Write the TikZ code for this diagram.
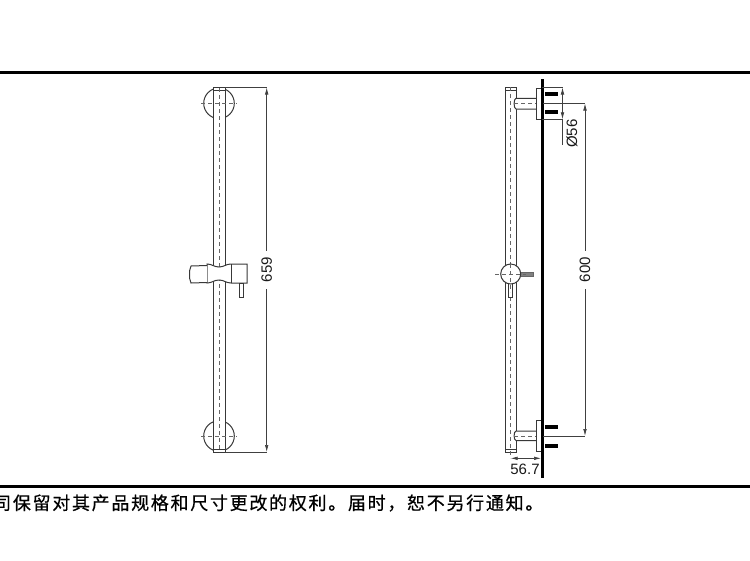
\documentclass[tikz,border=0pt]{standalone}
\usepackage{fontspec}
\usetikzlibrary{arrows.meta}
\setmainfont{Liberation Sans}
\newfontfamily\cjk[FakeBold=0.6]{Noto Sans CJK SC}
\tikzset{
    part/.style={draw=black!78, line width=1pt, fill=white},
    axis/.style={draw=black!60, line width=0.8pt, dashed, dash pattern=on 4pt off 3pt},
    dimline/.style={draw=black!75, line width=0.7pt},
    dimtip/.style={{Latex[length=7pt,width=3.6pt]}-{Latex[length=7pt,width=3.6pt]}},
    dimtext/.style={font=\fontsize{15}{15}\selectfont, text=black!90, inner ysep=1pt, inner xsep=6.5pt},
    screw/.style={draw=black, line width=4.2pt},
}
\begin{document}
\begin{tikzpicture}[x=1pt,y=-1pt]
    \useasboundingbox (0,0) rectangle (750,560);
    \clip (0,0) rectangle (750,560);
    % frame rules
    \draw[black, line width=3pt] (0,72) -- (750,72);
    \draw[black, line width=2.5pt] (0,486.5) -- (750,486.5);
    \node[anchor=west, inner sep=0pt, font=\cjk\fontsize{18}{19}\selectfont, black] (note) at (-7,503) {\addfontfeature{LetterSpace=9.5}司保留对其产品规格和尺寸更改的权利。届时，恕不另行通知。};

    % front view
    \foreach \y in {103.3,436}{
        \draw[part] (219,\y) circle (15.3);
    }
    \draw[part] (213,87.5) rectangle (225,452);
    \draw[part] (213,90) -- (225,90);
    \draw[part] (213,449) -- (225,449);
    \foreach \y in {103.3,436}{
        \draw[axis] (201,\y) -- (237,\y);
    }
    \draw[axis] (219,88) -- (219,452);
    % slider
    \draw[part] (207,264) .. controls (212,264) and (214,267) .. (219,267) .. controls (224,267) and (226,264) .. (231,264) -- (247,264) -- (247,283) -- (231,283) .. controls (226,283) and (224,280) .. (219,280) .. controls (214,280) and (212,283) .. (207,283) -- cycle;
    \draw[part] (207,265.5) -- (191,266) -- (189.5,271) -- (189.5,278) -- (191,283) -- (207,282.5);
    \draw[part] (231,264) -- (231,283);
    \draw[part] (239,283) rectangle (243,297.5);
    % 659
    \coordinate (frontTop) at (225,87.5);
    \coordinate (frontBot) at (225,452);
    \coordinate (dimTop) at (266.7,87.5);
    \coordinate (dimBot) at (266.7,452);
    \draw[dimline] (frontTop) -- (dimTop);
    \draw[dimline] (frontBot) -- (dimBot);
    \draw[dimline, dimtip] (dimTop) -- (dimBot) node[midway, fill=white, rotate=90, dimtext] (len) {659};

    % side view
    \draw[part] (505,87) rectangle (516.7,452);
    \draw[part] (505,90) -- (516.7,90);
    \draw[part] (505,449) -- (516.7,449);
    \draw[axis] (510.7,87) -- (510.7,458);
    \foreach \y/\a/\b/\s/\t in {103.5/98.3/109/88.3/119.3, 436/431/440.5/420/451.7}{
        \draw[part] (536,\a) -- (516,\a) .. controls (513.5,\a) and (513.5,\b) .. (516,\b) -- (536,\b);
        \draw[part] (536,\s) rectangle (542,\t);
        \draw[axis] (514,\y) -- (536,\y);
    }
    \foreach \y in {94.3,112.3,427.3,445.7}{
        \draw[screw] (545,\y) -- (558,\y);
    }
    \draw[black, line width=3.2pt] (542.3,79) -- (542.3,477.7);
    % slider, side
    \draw[part, draw=black!60, fill=black!50] (520,272) rectangle (533.5,276.5);
    \draw[part] (508.5,283) rectangle (512.7,297);
    \draw[part] (510.7,274) circle (10);
    \draw[axis] (495,274) -- (526,274);
    \draw[axis] (510.7,264) -- (510.7,292);
    % dimensions, side
    \coordinate (plateTop) at (542,87.5);
    \coordinate (plateBot) at (542,119.3);
    \coordinate (diaTop) at (562.5,87.5);
    \coordinate (diaBot) at (562.5,119.3);
    \coordinate (diaEnd) at (562.5,145);
    \draw[dimline] (plateTop) -- (diaTop);
    \draw[dimline] (plateBot) -- (diaBot);
    \draw[dimline, dimtip] (diaTop) -- (diaBot);
    \draw[dimline] (diaBot) -- (diaEnd);
    \node[dimtext, rotate=90, inner xsep=0pt] (dia) at (572,133.5) {Ø56};
    \coordinate (armTop) at (543,103.5);
    \coordinate (armBot) at (543,436);
    \coordinate (pitchTop) at (585,103.5);
    \coordinate (pitchBot) at (585,436);
    \draw[dimline] (armTop) -- (pitchTop);
    \draw[dimline] (armBot) -- (pitchBot);
    \draw[dimline, dimtip] (pitchTop) -- (pitchBot) node[midway, fill=white, rotate=90, dimtext] (pitch) {600};
    \coordinate (wallA) at (510.7,458.3);
    \coordinate (wallB) at (541,458.3);
    \draw[dimline, dimtip] (wallA) -- (wallB);
    \node[dimtext, inner xsep=0pt] (wall) at (525,469) {56.7};
\end{tikzpicture}
\end{document}
